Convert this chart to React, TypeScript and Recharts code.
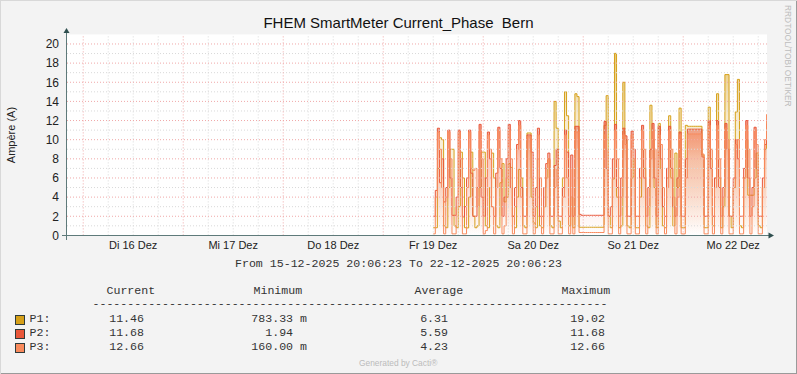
import { Area, CartesianGrid, ComposedChart, ReferenceLine, XAxis, YAxis } from "recharts";

// Zeitachse in Stunden seit 15.12.2025 00:00
const T_FROM = 20.1064; // 15-12-2025 20:06:23
const T_TO = 188.1064; // 22-12-2025 20:06:23
const START_HOUR = 108; // erste Messung: Fr 19 Dez 12:00
const STEP_HOURS = 0.5;

const p1 = [
  0.8, 0.8, 7.0, 10.2, 10.0, 1.0, 0.8, 5.0, 9.0, 9.0,
  1.0, 0.8, 3.0, 8.7, 6.0, 0.8, 0.78, 4.0, 8.7, 2.0,
  0.8, 1.0, 5.0, 8.7, 8.7, 1.0, 0.8, 5.0, 8.6, 6.0,
  1.0, 0.8, 5.5, 7.5, 3.5, 4.0, 7.5, 7.1, 2.0, 0.8,
  4.0, 6.9, 6.0, 1.0, 0.8, 10.7, 10.7, 4.0, 1.3, 0.8,
  8.0, 1.0, 0.8, 3.0, 6.0, 8.0, 1.0, 0.8, 14.0, 11.2,
  1.5, 0.8, 6.0, 15.0, 12.5, 1.0, 4.0, 0.8, 14.8, 14.5,
  0.85, 0.85, 0.85, 0.85, 0.85, 0.85, 0.85, 0.85, 0.85, 0.85,
  0.85, 0.85, 11.5, 14.6, 2.0, 0.8, 5.9, 19.02, 4.0, 0.8,
  1.0, 16.0, 10.0, 1.0, 0.8, 6.0, 8.0, 0.8, 0.8, 4.0,
  9.0, 7.0, 1.0, 0.8, 13.6, 10.0, 5.0, 0.8, 11.7, 7.0,
  1.0, 0.8, 6.0, 12.5, 6.0, 1.0, 8.6, 5.0, 13.3, 0.8,
  0.8, 11.5, 11.4, 11.4, 11.4, 11.4, 11.4, 11.4, 11.4, 8.4,
  0.8, 0.8, 13.4, 8.0, 1.0, 6.0, 14.8, 6.0, 0.8, 3.0,
  16.8, 16.8, 2.0, 0.8, 5.0, 12.9, 16.3, 1.0, 0.8, 6.0,
  10.0, 4.2, 4.2, 4.2, 6.0, 8.6, 1.0, 0.8, 5.0, 9.0,
  11.46,
];

const p2 = [
  2.0, 4.7, 11.2, 5.5, 8.0, 3.5, 5.0, 11.0, 6.0, 2.1,
  2.1, 4.0, 11.0, 5.0, 1.94, 3.0, 6.0, 11.0, 6.5, 2.0,
  2.0, 5.0, 11.6, 4.0, 2.0, 6.0, 10.8, 8.0, 3.0, 2.0,
  6.5, 11.3, 7.0, 2.0, 4.0, 8.0, 11.6, 5.0, 2.0, 5.0,
  9.5, 12.0, 5.0, 2.0, 2.0, 10.5, 10.5, 8.7, 2.0, 5.0,
  11.2, 2.0, 2.0, 5.0, 7.5, 8.6, 2.0, 2.0, 7.3, 9.0,
  2.0, 2.0, 5.0, 11.0, 8.7, 2.0, 8.4, 2.0, 11.4, 11.4,
  2.2, 2.1, 2.1, 2.1, 2.1, 2.1, 2.1, 2.1, 2.1, 2.1,
  2.1, 2.1, 11.9, 7.0, 2.0, 3.0, 8.0, 11.6, 5.0, 2.0,
  6.0, 11.2, 10.4, 2.0, 2.0, 10.9, 9.0, 2.0, 2.0, 7.0,
  11.5, 6.0, 2.0, 5.0, 9.0, 11.7, 6.0, 2.0, 11.4, 8.0,
  3.0, 2.0, 7.0, 11.4, 7.0, 3.0, 2.0, 6.0, 10.8, 2.0,
  2.0, 8.0, 11.1, 11.1, 11.1, 11.1, 11.1, 11.1, 11.1, 8.2,
  2.0, 2.0, 12.0, 7.0, 2.0, 6.0, 12.0, 5.0, 2.0, 5.0,
  11.7, 9.0, 2.0, 2.0, 6.0, 10.0, 8.0, 2.0, 2.0, 7.0,
  12.0, 6.0, 2.0, 5.0, 11.3, 7.0, 2.0, 2.0, 6.0, 9.5,
  11.68,
];

const p3 = [
  0.16, 4.0, 10.8, 9.0, 5.0, 0.16, 4.0, 10.8, 8.0, 0.16,
  0.16, 3.0, 10.8, 8.0, 0.16, 0.16, 5.0, 10.8, 7.0, 6.8,
  7.0, 3.0, 11.0, 8.0, 0.16, 0.5, 10.5, 9.0, 3.0, 0.16,
  5.0, 11.0, 8.0, 0.16, 1.0, 6.0, 11.0, 8.0, 0.16, 3.0,
  9.0, 11.5, 4.0, 0.16, 0.16, 10.3, 10.3, 6.0, 0.16, 3.0,
  10.5, 6.0, 0.16, 3.0, 7.0, 8.0, 0.16, 0.16, 5.0, 7.0,
  0.16, 0.16, 4.0, 10.5, 6.0, 0.16, 7.0, 0.16, 10.8, 10.8,
  0.3, 0.3, 0.3, 0.3, 0.3, 0.3, 0.3, 0.3, 0.3, 0.3,
  0.3, 0.3, 10.5, 9.0, 0.16, 0.16, 6.0, 11.0, 8.0, 0.16,
  4.0, 10.5, 9.5, 0.16, 0.16, 10.5, 8.0, 0.16, 0.16, 6.0,
  11.0, 9.0, 0.16, 3.0, 8.0, 11.0, 9.0, 0.16, 10.5, 9.5,
  5.0, 0.16, 5.0, 11.0, 9.0, 4.0, 0.16, 4.0, 10.5, 0.16,
  0.16, 6.0, 10.6, 10.6, 10.6, 10.6, 10.6, 10.6, 10.6, 8.5,
  0.16, 0.16, 11.5, 9.0, 0.16, 5.0, 11.5, 8.0, 0.16, 4.0,
  11.2, 10.0, 0.16, 0.16, 5.0, 9.5, 10.0, 0.16, 0.16, 6.0,
  11.5, 9.0, 0.16, 3.0, 11.0, 9.5, 0.16, 0.16, 5.0, 10.0,
  12.66,
];

const dayTicks = [36, 60, 84, 108, 132, 156, 180];
const dayLabels = ["Di 16 Dez", "Mi 17 Dez", "Do 18 Dez", "Fr 19 Dez", "Sa 20 Dez", "So 21 Dez", "Mo 22 Dez"];
const yTicks = [0, 2, 4, 6, 8, 10, 12, 14, 16, 18, 20];
const majorY = [2, 4, 6, 8, 10, 12, 14, 16, 18, 20];
const minorY = [1, 3, 5, 7, 9, 11, 13, 15, 17, 19];
const majorX = [24, 48, 72, 96, 120, 144, 168];
const minorX = [30, 36, 42, 54, 60, 66, 78, 84, 90, 102, 108, 114, 126, 132, 138, 150, 156, 162, 174, 180, 186];

const seriesKeys = ["p1", "p2", "p3"];
const seriesNames = ["P1:", "P2:", "P3:"];
const seriesColors = ["#D6A019", "#E8573A", "#F88A5C"];
const legendCurrent = ["11.46", "11.68", "12.66"];
const legendMinimum = ["783.33 m", "1.94  ", "160.00 m"];
const legendAverage = ["6.31", "5.59", "4.23"];
const legendMaximum = ["19.02", "11.68", "12.66"];

const data = p1.map((v, i) => ({ t: START_HOUR + i * STEP_HOURS, p1: v, p2: p2[i], p3: p3[i] }));

const SANS = '"Liberation Sans", Arial, sans-serif';
const MONO = '"Liberation Mono", "DejaVu Sans Mono", monospace';

const monoText = { position: "absolute", fontFamily: MONO, fontSize: 11.6, lineHeight: "12px", color: "#333", whiteSpace: "pre" } as const;

const ROW_TOPS = [313.2, 327.2, 341.2];

export default function App() {
  return (
    <div
      style={{
        position: "absolute",
        left: 0,
        top: 0,
        width: 797,
        height: 374,
        background: "#F3F3F3",
        boxShadow: "inset 1px 1px 0 #D8D8D8, inset -1px -1px 0 #9A9A9A",
        overflow: "hidden",
      }}
    >
      <div style={{ position: "absolute", left: 0, top: 0 }}>
        <ComposedChart width={797} height={260} data={data} margin={{ top: 34.4, right: 30, bottom: 0, left: 0 }}>
          <defs>
            {seriesKeys.map((k, i) => (
              <linearGradient key={k} id={`grad_${k}`} x1="0" y1="0" x2="0" y2="1">
                <stop offset="0%" stopColor={seriesColors[i]} stopOpacity={0.6} />
                <stop offset="35%" stopColor={seriesColors[i]} stopOpacity={0.22} />
                <stop offset="100%" stopColor={seriesColors[i]} stopOpacity={0} />
              </linearGradient>
            ))}
          </defs>
          <CartesianGrid horizontal={false} vertical={false} fill="#FFFFFF" />
          <XAxis
            dataKey="t"
            type="number"
            domain={[T_FROM, T_TO]}
            allowDataOverflow
            ticks={dayTicks}
            interval={0}
            tickFormatter={(v: number) => dayLabels[dayTicks.indexOf(v)] ?? ""}
            axisLine={false}
            tickLine={false}
            tickSize={4}
            tickMargin={2}
            height={24.6}
            tick={{ fontSize: 11, fill: "#222", fontFamily: SANS }}
          />
          <YAxis
            type="number"
            domain={[0, 21]}
            allowDataOverflow
            ticks={yTicks}
            interval={0}
            axisLine={false}
            tickLine={false}
            tickSize={6}
            tickMargin={2}
            width={67}
            tick={{ fontSize: 12, fill: "#222", fontFamily: SANS }}
          />
          {minorY.map((v) => (
            <ReferenceLine key={`my${v}`} y={v} stroke="#D9D9D9" strokeDasharray="1 2" />
          ))}
          {minorX.map((v) => (
            <ReferenceLine key={`mx${v}`} x={v} stroke="#D9D9D9" strokeDasharray="1 2" />
          ))}
          {majorY.map((v) => (
            <ReferenceLine key={`My${v}`} y={v} stroke="#F0A8A8" strokeDasharray="1 2" />
          ))}
          {majorX.map((v) => (
            <ReferenceLine key={`Mx${v}`} x={v} stroke="#F0A8A8" strokeDasharray="1 2" />
          ))}
          {seriesKeys.map((k, i) => (
            <Area
              key={k}
              type="stepAfter"
              dataKey={k}
              stroke={seriesColors[i]}
              strokeWidth={1}
              fill={`url(#grad_${k})`}
              fillOpacity={1}
              dot={false}
              activeDot={false}
              isAnimationActive={false}
            />
          ))}
        </ComposedChart>
      </div>

      <svg width={797} height={374} style={{ position: "absolute", left: 0, top: 0, pointerEvents: "none" }}>
        <text x={398.5} y={28.3} textAnchor="middle" fontFamily={SANS} fontSize={15} fill="#111" style={{ whiteSpace: "pre" }}>
          {"FHEM SmartMeter Current_Phase  Bern"}
        </text>
        <text transform="translate(15,135) rotate(-90)" textAnchor="middle" fontFamily={SANS} fontSize={11} fill="#222">
          Ampère (A)
        </text>
        <text transform="translate(785,5) rotate(90)" textAnchor="start" fontFamily={SANS} fontSize={8.4} fill="#BDBDBD">
          RRDTOOL/TOBI OETIKER
        </text>
        <line x1={66.5} y1={240} x2={66.5} y2={31} stroke="#5E7A7A" strokeWidth={1} />
        <line x1={62} y1={235.5} x2={770} y2={235.5} stroke="#5E7A7A" strokeWidth={1} />
        <polygon points="66.5,28 63.5,33 69.5,33" fill="#2F4F4F" />
        <polygon points="774,235.5 768.5,232.5 768.5,238.5" fill="#2F4F4F" />
        <text x={359} y={366} fontFamily={SANS} fontSize={8.4} fill="#BBBBBB">
          Generated by Cacti®
        </text>
      </svg>

      <div style={{ ...monoText, left: 0, width: 797, top: 257.6, textAlign: "center" }}>
        From 15-12-2025 20:06:23 To 22-12-2025 20:06:23
      </div>
      <div style={{ ...monoText, left: 106.5, top: 285.2 }}>Current</div>
      <div style={{ ...monoText, left: 253.5, top: 285.2 }}>Minimum</div>
      <div style={{ ...monoText, left: 414.5, top: 285.2 }}>Average</div>
      <div style={{ ...monoText, left: 561.5, top: 285.2 }}>Maximum</div>
      <div style={{ ...monoText, left: 92.5, top: 297.7 }}>{"-".repeat(74)}</div>

      {seriesNames.map((name, i) => (
        <div key={name}>
          <div
            style={{
              position: "absolute",
              left: 15,
              top: ROW_TOPS[i] + 1.5,
              width: 8,
              height: 8,
              background: seriesColors[i],
              border: "1px solid #2E3B3B",
            }}
          />
          <div style={{ ...monoText, left: 29.5, top: ROW_TOPS[i] }}>{name}</div>
          <div style={{ ...monoText, right: 797 - 144, top: ROW_TOPS[i], textAlign: "right" }}>{legendCurrent[i]}</div>
          <div style={{ ...monoText, right: 797 - 307, top: ROW_TOPS[i], textAlign: "right" }}>{legendMinimum[i]}</div>
          <div style={{ ...monoText, right: 797 - 448, top: ROW_TOPS[i], textAlign: "right" }}>{legendAverage[i]}</div>
          <div style={{ ...monoText, right: 797 - 605, top: ROW_TOPS[i], textAlign: "right" }}>{legendMaximum[i]}</div>
        </div>
      ))}
    </div>
  );
}
